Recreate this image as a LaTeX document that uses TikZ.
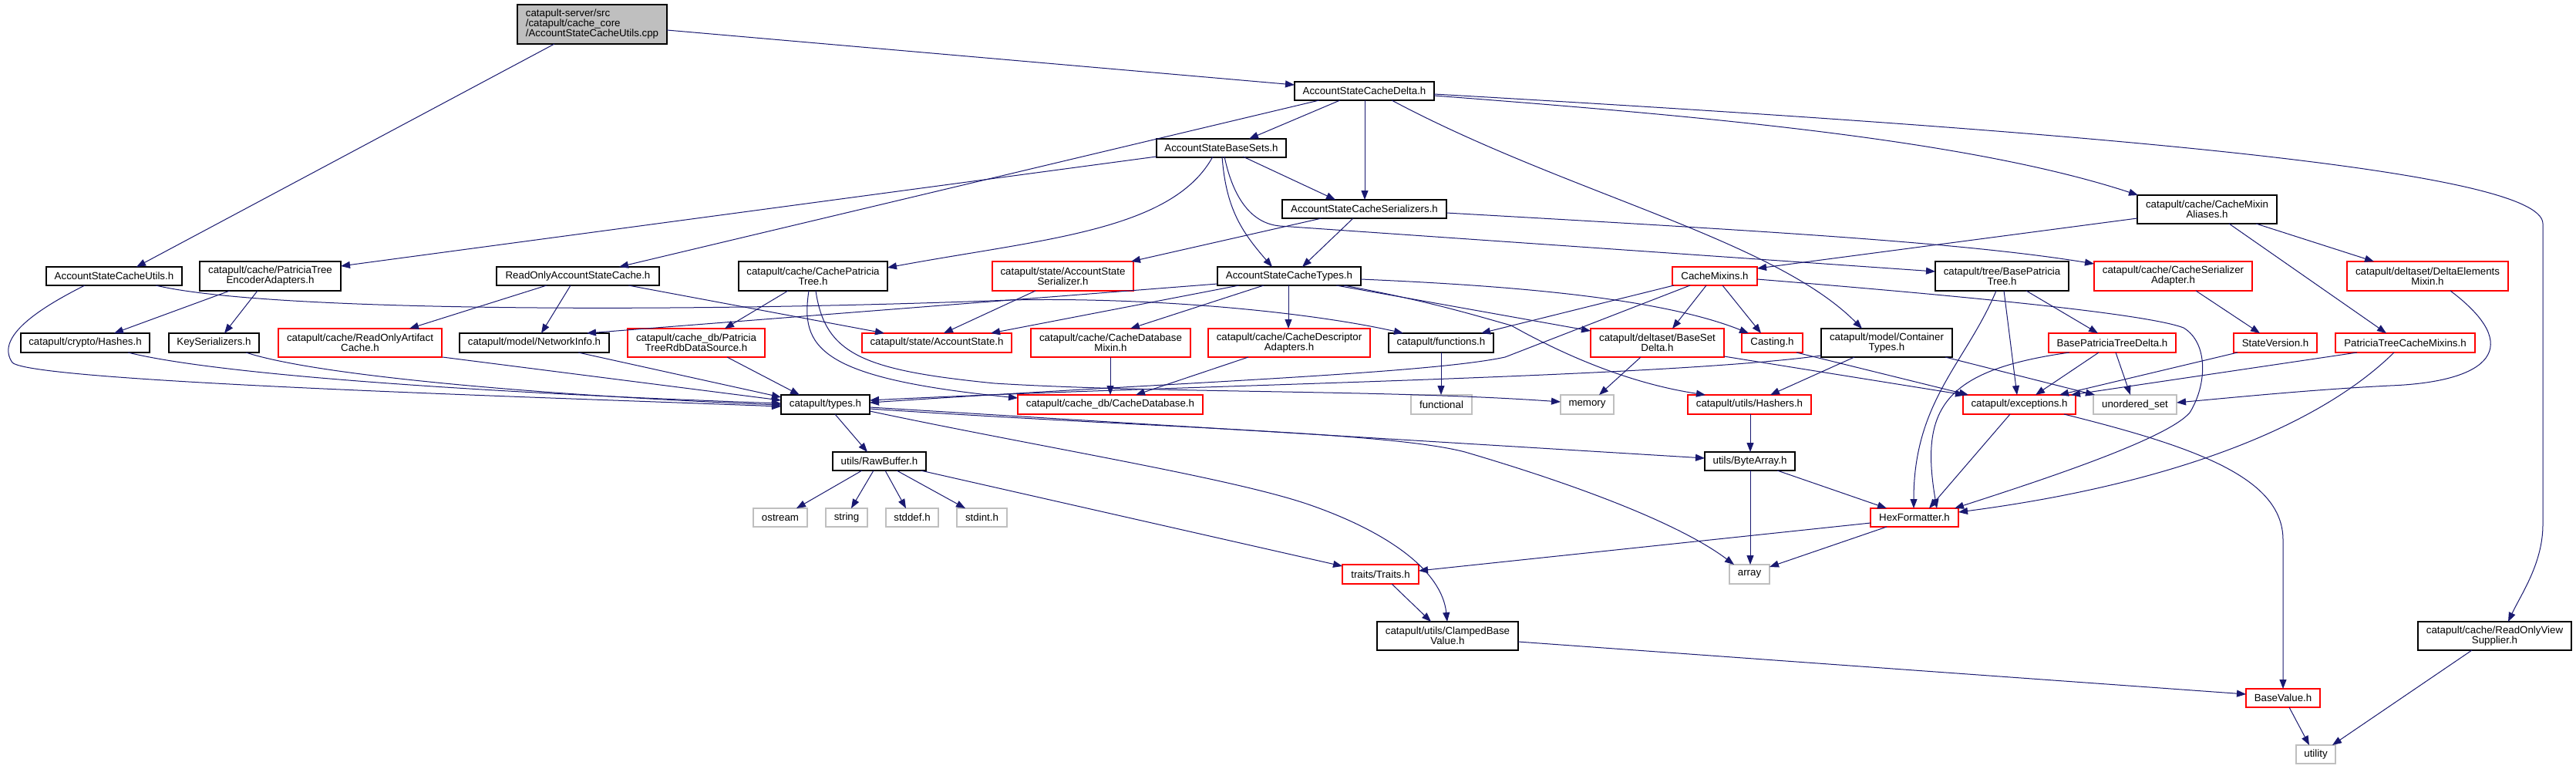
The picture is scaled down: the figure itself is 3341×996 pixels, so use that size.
\documentclass[tikz,border=0pt]{standalone}
\usepackage{fontspec}
\setmainfont{Liberation Sans}
\usetikzlibrary{arrows.meta}
\definecolor{edgec}{HTML}{191970}
\definecolor{sysgray}{HTML}{BFBFBF}
\definecolor{rootfill}{HTML}{BFBFBF}
\newcommand\nodefont{\fontsize{13.3}{13}\selectfont}
\begin{document}
\begin{tikzpicture}[x=1pt,y=-1pt,
  nbox/.style={draw=black,line width=1.2pt,fill=white,inner sep=0pt,outer sep=0pt,align=center,font=\nodefont,anchor=north west},
  rbox/.style={nbox,draw=red},
  gbox/.style={nbox,draw=sysgray},
  dep/.style={draw=edgec,line width=1pt,-{Triangle[length=12pt,width=9pt]}}]
\useasboundingbox (0,0) rectangle (3341,996);
\fill[white] (0,0) rectangle (3341,996);
% ---------------- nodes ----------------
\node[nbox,fill=rootfill,align=left,minimum width=194pt,minimum height=51pt] (root) at (671,6) {catapult-server/src\\/catapult/cache\_core\\/AccountStateCacheUtils.cpp};
\node[nbox,minimum width=176pt,minimum height=24pt] (utils) at (60,346) {AccountStateCacheUtils.h};
\node[nbox,minimum width=181pt,minimum height=24pt] (delta) at (1679,106) {AccountStateCacheDelta.h};
\node[nbox,minimum width=168pt,minimum height=24pt] (basesets) at (1500,180) {AccountStateBaseSets.h};
\node[nbox,minimum width=213pt,minimum height=24pt] (ser) at (1663,259) {AccountStateCacheSerializers.h};
\node[nbox,minimum width=186pt,minimum height=24pt] (types) at (1579,346) {AccountStateCacheTypes.h};
\node[nbox,minimum width=181pt,minimum height=37pt] (mixalias) at (2772,253) {catapult/cache/CacheMixin\\Aliases.h};
\node[nbox,minimum width=199pt,minimum height=37pt] (rovs) at (3136,806) {catapult/cache/ReadOnlyView\\Supplier.h};
\node[nbox,minimum width=183pt,minimum height=38pt] (pteea) at (259,339) {catapult/cache/PatriciaTree\\EncoderAdapters.h};
\node[nbox,minimum width=211pt,minimum height=24pt] (roasc) at (644,346) {ReadOnlyAccountStateCache.h};
\node[nbox,minimum width=193pt,minimum height=38pt] (cpt) at (958,339) {catapult/cache/CachePatricia\\Tree.h};
\node[rbox,minimum width=183pt,minimum height=38pt] (asser) at (1287,339) {catapult/state/AccountState\\Serializer.h};
\node[rbox,minimum width=110pt,minimum height=24pt] (cmix) at (2169,346) {CacheMixins.h};
\node[nbox,minimum width=173pt,minimum height=38pt] (bpt) at (2510,339) {catapult/tree/BasePatricia\\Tree.h};
\node[rbox,minimum width=205pt,minimum height=38pt] (csa) at (2716,339) {catapult/cache/CacheSerializer\\Adapter.h};
\node[rbox,minimum width=209pt,minimum height=38pt] (dem) at (3044,339) {catapult/deltaset/DeltaElements\\Mixin.h};
\node[nbox,minimum width=167pt,minimum height=25pt] (hashes) at (27,432) {catapult/crypto/Hashes.h};
\node[nbox,minimum width=117pt,minimum height=25pt] (keyser) at (219,432) {KeySerializers.h};
\node[rbox,minimum width=212pt,minimum height=37pt] (roac) at (361,426) {catapult/cache/ReadOnlyArtifact\\Cache.h};
\node[nbox,minimum width=194pt,minimum height=25pt] (netinfo) at (596,432) {catapult/model/NetworkInfo.h};
\node[rbox,minimum width=178pt,minimum height=37pt] (rdb) at (814,426) {catapult/cache\_db/Patricia\\TreeRdbDataSource.h};
\node[rbox,minimum width=194pt,minimum height=25pt] (acstate) at (1118,432) {catapult/state/AccountState.h};
\node[rbox,minimum width=207pt,minimum height=37pt] (cdbmix) at (1337,426) {catapult/cache/CacheDatabase\\Mixin.h};
\node[rbox,minimum width=210pt,minimum height=37pt] (cdesc) at (1567,426) {catapult/cache/CacheDescriptor\\Adapters.h};
\node[nbox,minimum width=136pt,minimum height=25pt] (func) at (1801,432) {catapult/functions.h};
\node[rbox,minimum width=173pt,minimum height=37pt] (bsd) at (2063,426) {catapult/deltaset/BaseSet\\Delta.h};
\node[rbox,minimum width=79pt,minimum height=25pt] (casting) at (2259,432) {Casting.h};
\node[nbox,minimum width=170pt,minimum height=37pt] (ctypes) at (2362,426) {catapult/model/Container\\Types.h};
\node[rbox,minimum width=165pt,minimum height=25pt] (bptd) at (2657,432) {BasePatriciaTreeDelta.h};
\node[rbox,minimum width=108pt,minimum height=25pt] (sver) at (2897,432) {StateVersion.h};
\node[rbox,minimum width=181pt,minimum height=25pt] (ptcm) at (3029,432) {PatriciaTreeCacheMixins.h};
\node[nbox,minimum width=115pt,minimum height=25pt] (ctyp) at (1013,512) {catapult/types.h};
\node[rbox,minimum width=240pt,minimum height=25pt] (cdb) at (1320,512) {catapult/cache\_db/CacheDatabase.h};
\node[gbox,minimum width=79pt,minimum height=25pt] (functional) at (1830,512) {functional};
\node[gbox,minimum width=69pt,minimum height=25pt] (memory) at (2024,512) {memory};
\node[rbox,minimum width=160pt,minimum height=25pt] (hashers) at (2189,512) {catapult/utils/Hashers.h};
\node[rbox,minimum width=146pt,minimum height=25pt] (exc) at (2546,512) {catapult/exceptions.h};
\node[gbox,minimum width=108pt,minimum height=25pt] (uset) at (2715,512) {unordered\_set};
\node[nbox,minimum width=121pt,minimum height=24pt] (rawbuf) at (1080,586) {utils/RawBuffer.h};
\node[nbox,minimum width=117pt,minimum height=24pt] (bytearr) at (2211,586) {utils/ByteArray.h};
\node[rbox,minimum width=114pt,minimum height=24pt] (hexf) at (2426,659) {HexFormatter.h};
\node[gbox,minimum width=70pt,minimum height=24pt] (ostream) at (977,659) {ostream};
\node[gbox,minimum width=54pt,minimum height=24pt] (string) at (1071,659) {string};
\node[gbox,minimum width=68pt,minimum height=24pt] (stddef) at (1149,659) {stddef.h};
\node[gbox,minimum width=65pt,minimum height=24pt] (stdint) at (1241,659) {stdint.h};
\node[rbox,minimum width=99pt,minimum height=25pt] (traits) at (1741,732) {traits/Traits.h};
\node[gbox,minimum width=52pt,minimum height=25pt] (array) at (2243,732) {array};
\node[nbox,minimum width=183pt,minimum height=37pt] (clamped) at (1786,806) {catapult/utils/ClampedBase\\Value.h};
\node[rbox,minimum width=96pt,minimum height=24pt] (basevalue) at (2913,893) {BaseValue.h};
\node[gbox,minimum width=51pt,minimum height=24pt] (utility) at (2978,966) {utility};
% ---------------- edges ----------------
\draw[dep] ([shift={(48,51)}]root.north west) -- ([shift={(117,0)}]utils.north west);
\draw[dep] ([shift={(194,33)}]root.north west) -- ([shift={(0,4)}]delta.north west);
\draw[dep] ([shift={(50,24)}]utils.north west) .. controls (40,405) and (-5,440) .. (16,470) .. controls (40,495) and (700,515) .. ([shift={(0,15)}]ctyp.north west);
\draw[dep] ([shift={(142,24)}]utils.north west) .. controls (350,405) and (900,405) .. (1310,389) .. controls (1500,385) and (1700,405) .. ([shift={(19,0)}]func.north west);
\draw[dep] ([shift={(59,24)}]delta.north west) -- ([shift={(120,0)}]basesets.north west);
\draw[dep] ([shift={(32,24)}]delta.north west) -- ([shift={(159,0)}]roasc.north west);
\draw[dep] ([shift={(91,24)}]delta.north west) -- ([shift={(107,0)}]ser.north west);
\draw[dep] ([shift={(126,24)}]delta.north west) .. controls (2030,250) and (2300,310) .. ([shift={(53,0)}]ctypes.north west);
\draw[dep] ([shift={(181,18)}]delta.north west) .. controls (2200,150) and (2550,180) .. ([shift={(1,0)}]mixalias.north west);
\draw[dep] ([shift={(181,16)}]delta.north west) .. controls (2700,170) and (3298,220) .. (3298,290) -- (3298,680) .. controls (3298,730) and (3270,770) .. ([shift={(117,0)}]rovs.north west);
\draw[dep] ([shift={(0,23)}]basesets.north west) -- ([shift={(183,6)}]pteea.north west);
\draw[dep] ([shift={(73,23)}]basesets.north west) .. controls (1520,300) and (1350,310) .. ([shift={(193,8)}]cpt.north west);
\draw[dep] ([shift={(85,23)}]basesets.north west) .. controls (1590,270) and (1610,300) .. ([shift={(71,0)}]types.north west);
\draw[dep] ([shift={(112,23)}]basesets.north west) -- ([shift={(69,0)}]ser.north west);
\draw[dep] ([shift={(88,23)}]basesets.north west) .. controls (1600,260) and (1625,290) .. (1660,293) -- ([shift={(0,13)}]bpt.north west);
\draw[dep] ([shift={(92,24)}]ser.north west) -- ([shift={(110,0)}]types.north west);
\draw[dep] ([shift={(51,24)}]ser.north west) -- ([shift={(180,0)}]asser.north west);
\draw[dep] ([shift={(213,17)}]ser.north west) .. controls (2300,300) and (2550,315) .. ([shift={(0,3)}]csa.north west);
\draw[dep] ([shift={(0,30)}]mixalias.north west) -- ([shift={(110,2)}]cmix.north west);
\draw[dep] ([shift={(119,37)}]mixalias.north west) -- ([shift={(66,0)}]ptcm.north west);
\draw[dep] ([shift={(154,37)}]mixalias.north west) -- ([shift={(35,0)}]dem.north west);
\draw[dep] ([shift={(28,24)}]types.north west) -- ([shift={(167,0)}]acstate.north west);
\draw[dep] ([shift={(60,24)}]types.north west) -- ([shift={(129,0)}]cdbmix.north west);
\draw[dep] ([shift={(92,24)}]types.north west) -- ([shift={(104,0)}]cdesc.north west);
\draw[dep] ([shift={(154,24)}]types.north west) -- ([shift={(0,3)}]bsd.north west);
\draw[dep] ([shift={(164,24)}]types.north west) .. controls (1850,390) and (1900,405) .. (1960,422) .. controls (2010,450) and (2100,495) .. ([shift={(23,0)}]hashers.north west);
\draw[dep] ([shift={(186,16)}]types.north west) .. controls (1950,370) and (2150,385) .. ([shift={(9,0)}]casting.north west);
\draw[dep] ([shift={(0,22)}]types.north west) -- ([shift={(165,0)}]netinfo.north west);
\draw[dep] ([shift={(65,24)}]roasc.north west) -- ([shift={(170,0)}]roac.north west);
\draw[dep] ([shift={(96,24)}]roasc.north west) -- ([shift={(106,0)}]netinfo.north west);
\draw[dep] ([shift={(171,24)}]roasc.north west) -- ([shift={(29,0)}]acstate.north west);
\draw[dep] ([shift={(39,38)}]pteea.north west) -- ([shift={(121,0)}]hashes.north west);
\draw[dep] ([shift={(75,38)}]pteea.north west) -- ([shift={(72,0)}]keyser.north west);
\draw[dep] ([shift={(139,25)}]hashes.north west) .. controls (300,490) and (700,512) .. ([shift={(0,11)}]ctyp.north west);
\draw[dep] ([shift={(100,25)}]keyser.north west) .. controls (420,490) and (750,515) .. ([shift={(0,13)}]ctyp.north west);
\draw[dep] ([shift={(213,37)}]roac.north west) -- ([shift={(0,7)}]ctyp.north west);
\draw[dep] ([shift={(154,25)}]netinfo.north west) -- ([shift={(0,3)}]ctyp.north west);
\draw[dep] ([shift={(129,37)}]rdb.north west) -- ([shift={(24,0)}]ctyp.north west);
\draw[dep] ([shift={(64,38)}]cpt.north west) -- ([shift={(126,0)}]rdb.north west);
\draw[dep] ([shift={(91,38)}]cpt.north west) .. controls (1038,450) and (1060,490) .. ([shift={(0,4)}]cdb.north west);
\draw[dep] ([shift={(100,38)}]cpt.north west) .. controls (1070,460) and (1120,480) .. (1290,497) .. controls (1500,510) and (1800,505) .. ([shift={(0,9)}]memory.north west);
\draw[dep] ([shift={(56,38)}]asser.north west) -- ([shift={(106,0)}]acstate.north west);
\draw[dep] ([shift={(103,37)}]cdbmix.north west) -- ([shift={(120,0)}]cdb.north west);
\draw[dep] ([shift={(52,37)}]cdesc.north west) -- ([shift={(153,0)}]cdb.north west);
\draw[dep] ([shift={(68,25)}]func.north west) -- ([shift={(39,0)}]functional.north west);
\draw[dep] ([shift={(2,24)}]cmix.north west) -- ([shift={(120,0)}]func.north west);
\draw[dep] ([shift={(23,24)}]cmix.north west) -- (1952,463) .. controls (1850,485) and (1500,497) .. ([shift={(115,10)}]ctyp.north west);
\draw[dep] ([shift={(44,24)}]cmix.north west) -- ([shift={(106,0)}]bsd.north west);
\draw[dep] ([shift={(65,24)}]cmix.north west) -- ([shift={(25,0)}]casting.north west);
\draw[dep] ([shift={(110,16)}]cmix.north west) .. controls (2500,380) and (2780,405) .. (2832,425) .. controls (2865,445) and (2862,500) .. (2840,535) .. controls (2810,570) and (2640,625) .. ([shift={(109,0)}]hexf.north west);
\draw[dep] ([shift={(65,37)}]bsd.north west) -- ([shift={(50,0)}]memory.north west);
\draw[dep] ([shift={(173,36)}]bsd.north west) -- ([shift={(2,0)}]exc.north west);
\draw[dep] ([shift={(71,25)}]casting.north west) -- ([shift={(7,0)}]exc.north west);
\draw[dep] ([shift={(0,35)}]ctypes.north west) .. controls (2150,490) and (1500,500) .. ([shift={(115,7)}]ctyp.north west);
\draw[dep] ([shift={(43,37)}]ctypes.north west) -- ([shift={(107,0)}]hashers.north west);
\draw[dep] ([shift={(161,37)}]ctypes.north west) -- ([shift={(2,0)}]uset.north west);
\draw[dep] ([shift={(27,25)}]bptd.north west) .. controls (2520,480) and (2490,530) .. ([shift={(86,0)}]hexf.north west);
\draw[dep] ([shift={(79,38)}]bpt.north west) .. controls (2550,470) and (2482,520) .. ([shift={(56,0)}]hexf.north west);
\draw[dep] ([shift={(89,38)}]bpt.north west) -- ([shift={(70,0)}]exc.north west);
\draw[dep] ([shift={(118,38)}]bpt.north west) -- ([shift={(64,0)}]bptd.north west);
\draw[dep] ([shift={(65,25)}]bptd.north west) -- ([shift={(94,0)}]exc.north west);
\draw[dep] ([shift={(87,25)}]bptd.north west) -- ([shift={(48,0)}]uset.north west);
\draw[dep] ([shift={(132,38)}]csa.north west) -- ([shift={(34,0)}]sver.north west);
\draw[dep] ([shift={(5,25)}]sver.north west) -- ([shift={(125,0)}]exc.north west);
\draw[dep] ([shift={(28,25)}]ptcm.north west) -- ([shift={(140,0)}]exc.north west);
\draw[dep] ([shift={(76,25)}]ptcm.north west) .. controls (3000,560) and (2800,630) .. ([shift={(114,5)}]hexf.north west);
\draw[dep] ([shift={(134,38)}]dem.north west) .. controls (3275,450) and (3230,495) .. (3100,500) .. controls (3000,505) and (2900,515) .. ([shift={(108,10)}]uset.north west);
\draw[dep] ([shift={(81,25)}]hashers.north west) -- ([shift={(59,0)}]bytearr.north west);
\draw[dep] ([shift={(70,25)}]ctyp.north west) -- ([shift={(45,0)}]rawbuf.north west);
\draw[dep] ([shift={(115,16)}]ctyp.north west) -- ([shift={(0,8)}]bytearr.north west);
\draw[dep] ([shift={(115,18)}]ctyp.north west) .. controls (1500,555) and (1800,560) .. (1900,586) .. controls (2050,630) and (2180,680) .. ([shift={(6,0)}]array.north west);
\draw[dep] ([shift={(115,21)}]ctyp.north west) .. controls (1350,580) and (1600,620) .. (1700,655) .. controls (1800,690) and (1870,740) .. ([shift={(91,0)}]clamped.north west);
\draw[dep] ([shift={(38,24)}]rawbuf.north west) -- ([shift={(56,0)}]ostream.north west);
\draw[dep] ([shift={(53,24)}]rawbuf.north west) -- ([shift={(33,0)}]string.north west);
\draw[dep] ([shift={(68,24)}]rawbuf.north west) -- ([shift={(26,0)}]stddef.north west);
\draw[dep] ([shift={(83,24)}]rawbuf.north west) -- ([shift={(11,0)}]stdint.north west);
\draw[dep] ([shift={(114,24)}]rawbuf.north west) -- ([shift={(0,2)}]traits.north west);
\draw[dep] ([shift={(59,24)}]bytearr.north west) -- ([shift={(27,0)}]array.north west);
\draw[dep] ([shift={(94,24)}]bytearr.north west) -- ([shift={(21,0)}]hexf.north west);
\draw[dep] ([shift={(0,19)}]hexf.north west) -- ([shift={(99,8)}]traits.north west);
\draw[dep] ([shift={(21,24)}]hexf.north west) -- ([shift={(52,3)}]array.north west);
\draw[dep] ([shift={(61,25)}]exc.north west) -- ([shift={(76,0)}]hexf.north west);
\draw[dep] ([shift={(131,25)}]exc.north west) .. controls (2850,580) and (2961,620) .. (2961,700) -- ([shift={(48,0)}]basevalue.north west);
\draw[dep] ([shift={(64,25)}]traits.north west) -- ([shift={(70,0)}]clamped.north west);
\draw[dep] ([shift={(183,26)}]clamped.north west) -- ([shift={(0,7)}]basevalue.north west);
\draw[dep] ([shift={(56,24)}]basevalue.north west) -- ([shift={(17,0)}]utility.north west);
\draw[dep] ([shift={(70,37)}]rovs.north west) -- ([shift={(47,0)}]utility.north west);
\end{tikzpicture}
\end{document}
